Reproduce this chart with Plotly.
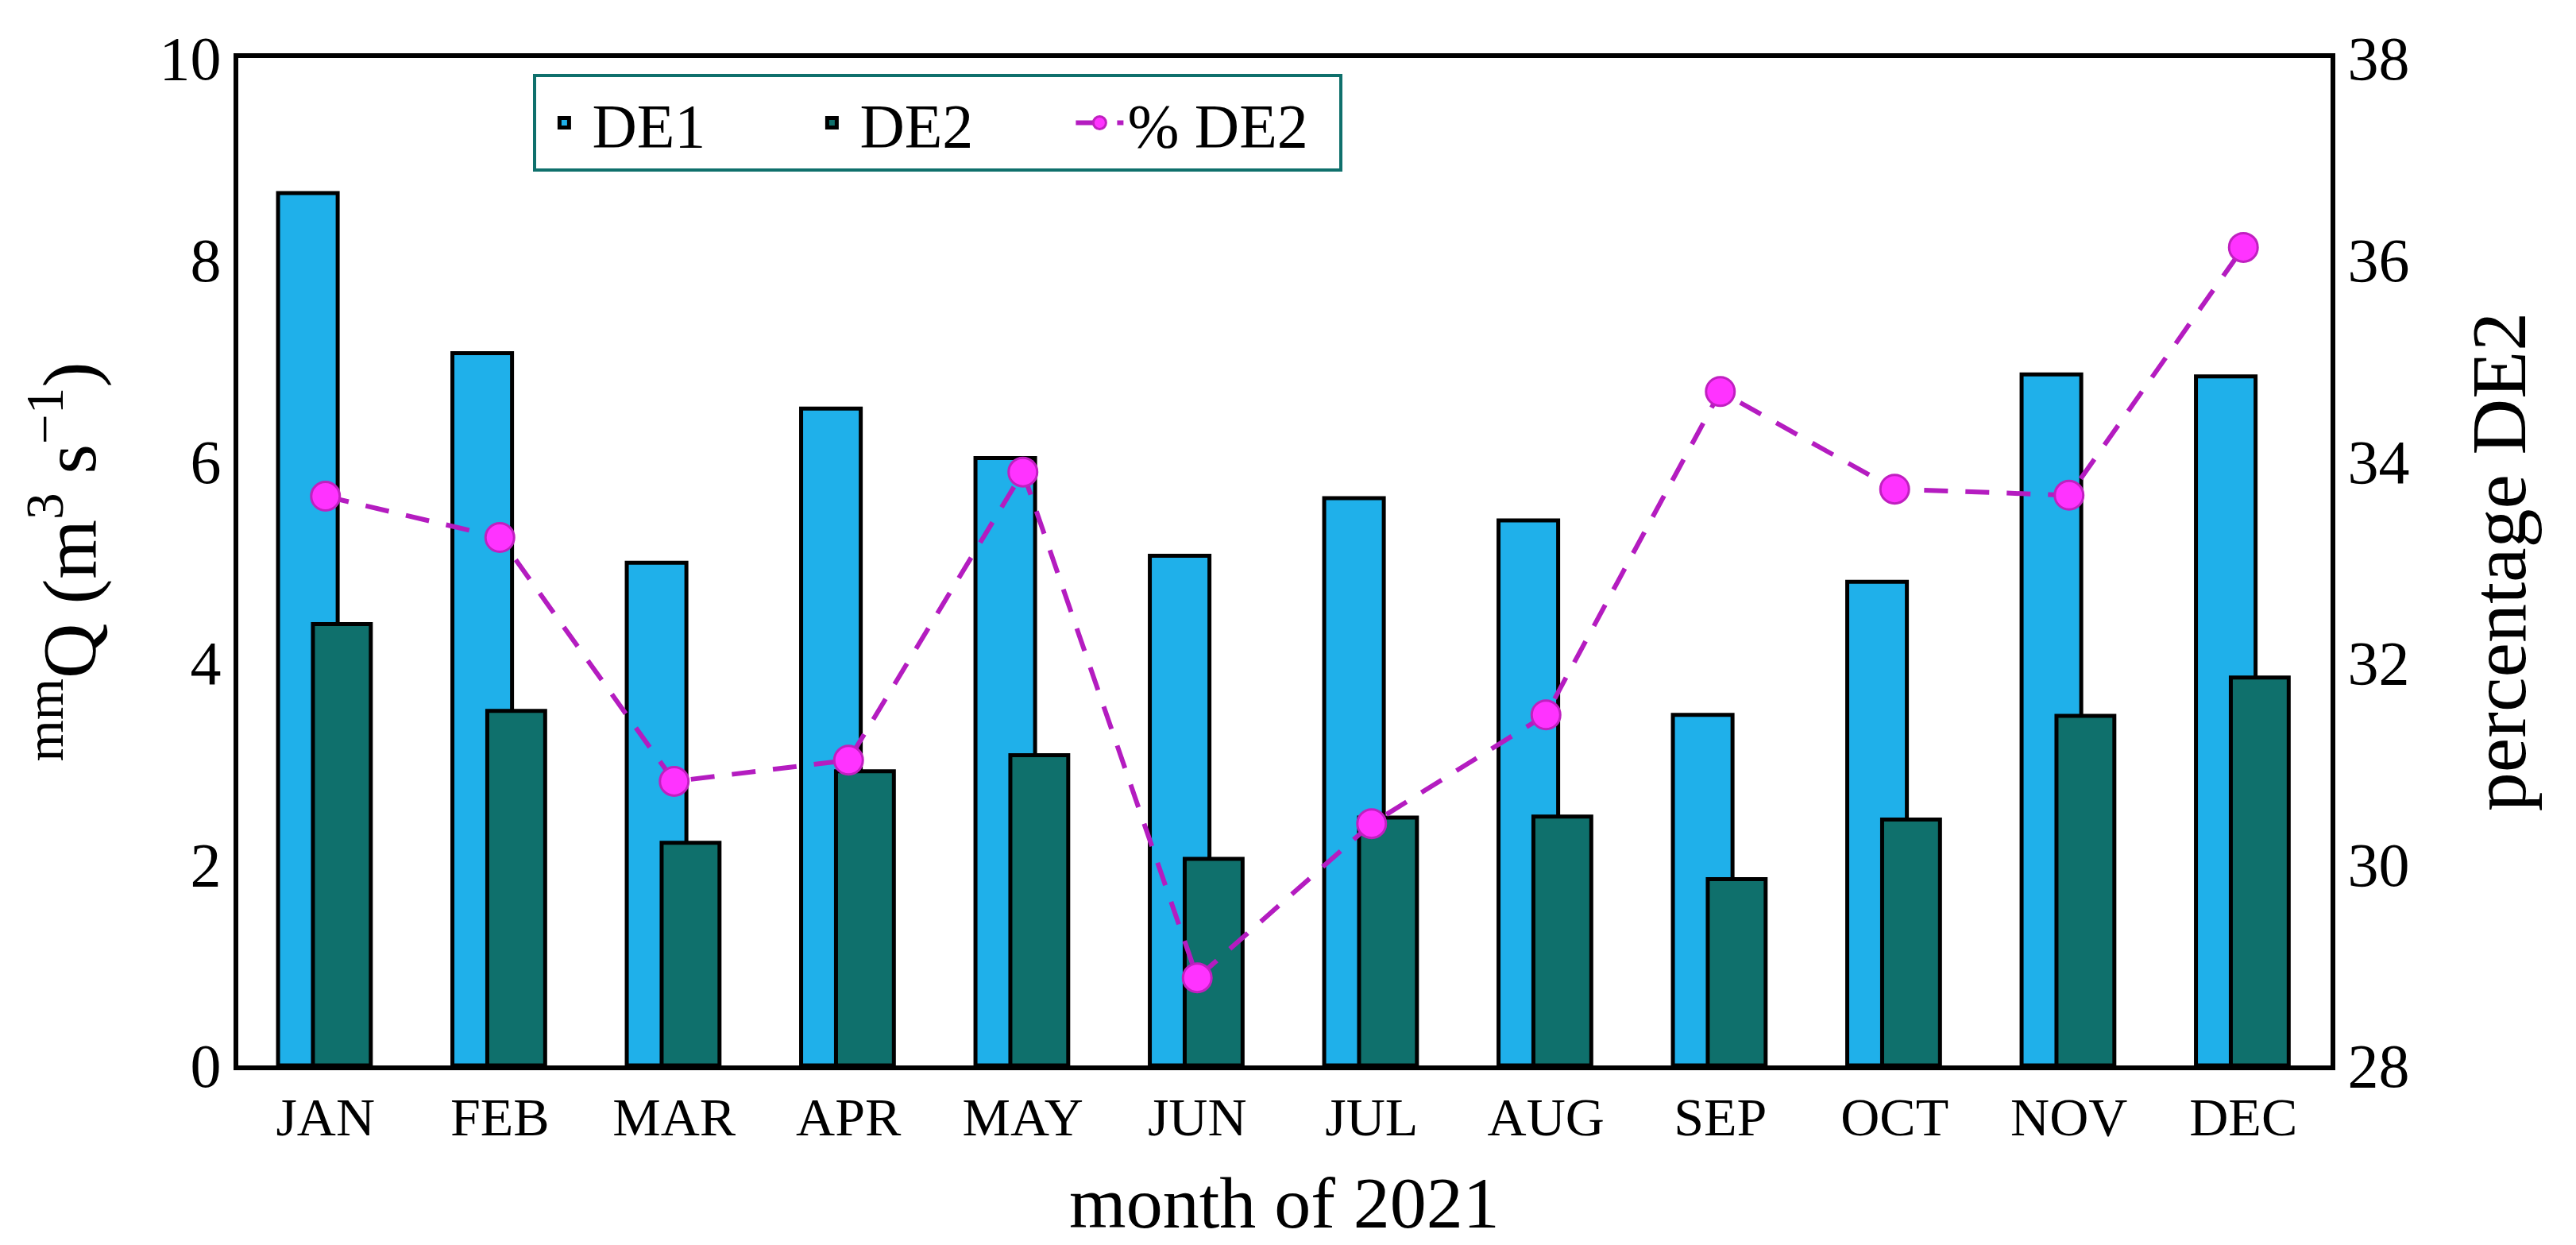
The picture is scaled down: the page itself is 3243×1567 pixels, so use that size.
import plotly.graph_objects as go

months = ["JAN", "FEB", "MAR", "APR", "MAY", "JUN", "JUL", "AUG", "SEP", "OCT", "NOV", "DEC"]
de1 = [8.66, 7.07, 4.99, 6.52, 6.03, 5.06, 5.63, 5.41, 3.48, 4.80, 6.86, 6.84]
de2 = [4.38, 3.52, 2.21, 2.92, 3.08, 2.05, 2.46, 2.47, 1.85, 2.44, 3.47, 3.85]
pct_de2 = [33.65, 33.24, 30.82, 31.03, 33.89, 28.87, 30.40, 31.48, 34.69, 33.72, 33.66, 36.12]

FONT = "Liberation Serif"
TEAL = "#0F706C"
BLUE = "#1FB0EA"

fig = go.Figure()
fig.add_trace(go.Bar(
    x=months, y=de1, name="DE1",
    marker=dict(color=BLUE, line=dict(color="black", width=5)),
    offset=-0.272, width=0.342,
))
fig.add_trace(go.Bar(
    x=months, y=de2, name="DE2",
    marker=dict(color=TEAL, line=dict(color="black", width=5)),
    offset=-0.072, width=0.332,
))
fig.add_trace(go.Scatter(
    x=months, y=pct_de2, name="% DE2", yaxis="y2", mode="lines+markers",
    line=dict(color="#B41CC0", width=6, dash="30px,22px"),
    marker=dict(size=36, color="#FF33FF", line=dict(color="#C020C0", width=3)),
))

fig.update_layout(
    width=3243, height=1567,
    margin=dict(l=292, r=317, t=65, b=234, autoexpand=False),
    paper_bgcolor="white", plot_bgcolor="white",
    barmode="overlay",
    font=dict(family=FONT, color="black"),
    showlegend=True,
    legend=dict(
        orientation="h", x=0.141, y=0.984, xanchor="left", yanchor="top",
        bordercolor=TEAL, borderwidth=4, bgcolor="white",
        font=dict(family=FONT, size=78), itemwidth=60,
        entrywidth=262, entrywidthmode="pixels",
        tracegroupgap=0,
    ),
    xaxis=dict(
        type="category", range=[-0.5, 11.5],
        showline=True, linecolor="black", linewidth=6, mirror=True,
        showgrid=False, ticks="", zeroline=False,
        tickfont=dict(family=FONT, size=68),
        title=dict(text="month of 2021", font=dict(family=FONT, size=92), standoff=40),
    ),
    yaxis=dict(
        range=[0, 10], dtick=2, tick0=0,
        showline=True, linecolor="black", linewidth=6,
        showgrid=False, ticks="", zeroline=False,
        tickfont=dict(family=FONT, size=78),
        title=dict(text="<sup>mm</sup>Q (m<sup>3</sup> s<sup>−1</sup>)",
                   font=dict(family=FONT, size=96), standoff=50),
    ),
    yaxis2=dict(
        range=[28, 38], dtick=2, tick0=28, overlaying="y", side="right",
        showline=True, linecolor="black", linewidth=6,
        showgrid=False, ticks="", zeroline=False,
        tickfont=dict(family=FONT, size=78),
        title=dict(text="percentage DE2", font=dict(family=FONT, size=98), standoff=80),
    ),
)

fig.write_html("out.html")
